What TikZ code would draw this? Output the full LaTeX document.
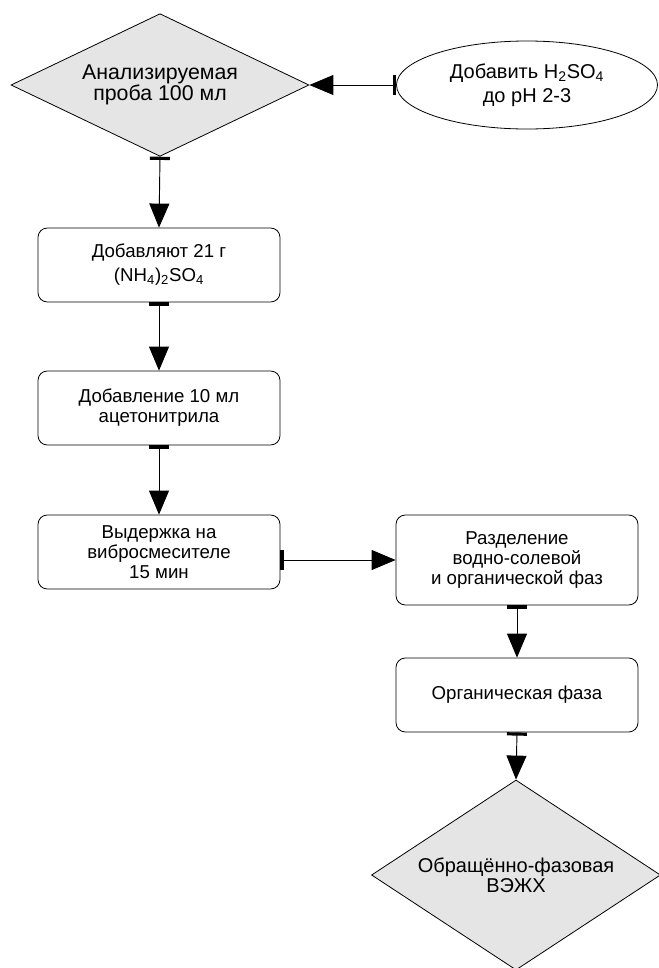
\documentclass[tikz,border=0pt]{standalone}
\usepackage{fontspec}
\setmainfont{Liberation Sans}
\usetikzlibrary{shapes.geometric,arrows.meta}
\tikzset{
    process-box/.style = {draw, line width=0.6pt, fill=white, rectangle, rounded corners=7pt, minimum width=181.5pt, minimum height=55.5pt, inner sep=2pt, align=center, font=\fontsize{14}{15}\selectfont},
    sample-diamond/.style = {draw, line width=0.6pt, fill=black!10, diamond, inner sep=0pt, align=center},
    reagent-ellipse/.style = {draw, line width=0.6pt, fill=white, ellipse, minimum width=195.75pt, minimum height=66pt, inner sep=0pt, align=center, font=\fontsize{15}{18}\selectfont},
    flow-arrow/.style = {line width=0.7pt, {Bar[width=15pt,line width=2.4pt]}-{Triangle[length=18pt,width=15pt]}},
}
\begin{document}
\begin{tikzpicture}[x=0.75pt, y=-0.75pt]
\useasboundingbox (0,0) rectangle (659,968);
\node[sample-diamond, aspect=2.1, minimum width=223.5pt, minimum height=107pt, font=\fontsize{16}{16}\selectfont] (sample) at (160,85) {Анализируемая\\проба 100 мл};
\node[reagent-ellipse] (acid) at (527,85) {Добавить H\textsubscript{2}SO\textsubscript{4}\\до pH 2-3};
\node[process-box] (salt) at (159,265) {Добавляют 21 г\\[3pt](NH\textsubscript{4})\textsubscript{2}SO\textsubscript{4}};
\node[process-box] (acn) at (159,408) {Добавление 10 мл\\ацетонитрила};
\node[process-box] (shake) at (159,552) {Выдержка на\\вибросмесителе\\15 мин};
\node[process-box, minimum height=67.5pt] (split) at (517,560) {Разделение\\водно-солевой\\и органической фаз};
\node[process-box] (organic) at (517,695) {Органическая фаза};
\node[sample-diamond, aspect=1.5, minimum width=216.75pt, minimum height=142.5pt, font=\fontsize{15}{15}\selectfont] (hplc) at (516,875) {Обращённо-фазовая\\ВЭЖХ};

\draw[flow-arrow] (acid.west) -- (sample.east);
\draw[flow-arrow] (sample.south) -- (salt.north);
\draw[flow-arrow] (salt.south) -- (acn.north);
\draw[flow-arrow] (acn.south) -- (shake.north);
\draw[flow-arrow] (shake.east |- split.west) -- (split.west);
\draw[flow-arrow] (split.south) -- (organic.north);
\draw[flow-arrow] (organic.south) -- (hplc.north);
\end{tikzpicture}
\end{document}
